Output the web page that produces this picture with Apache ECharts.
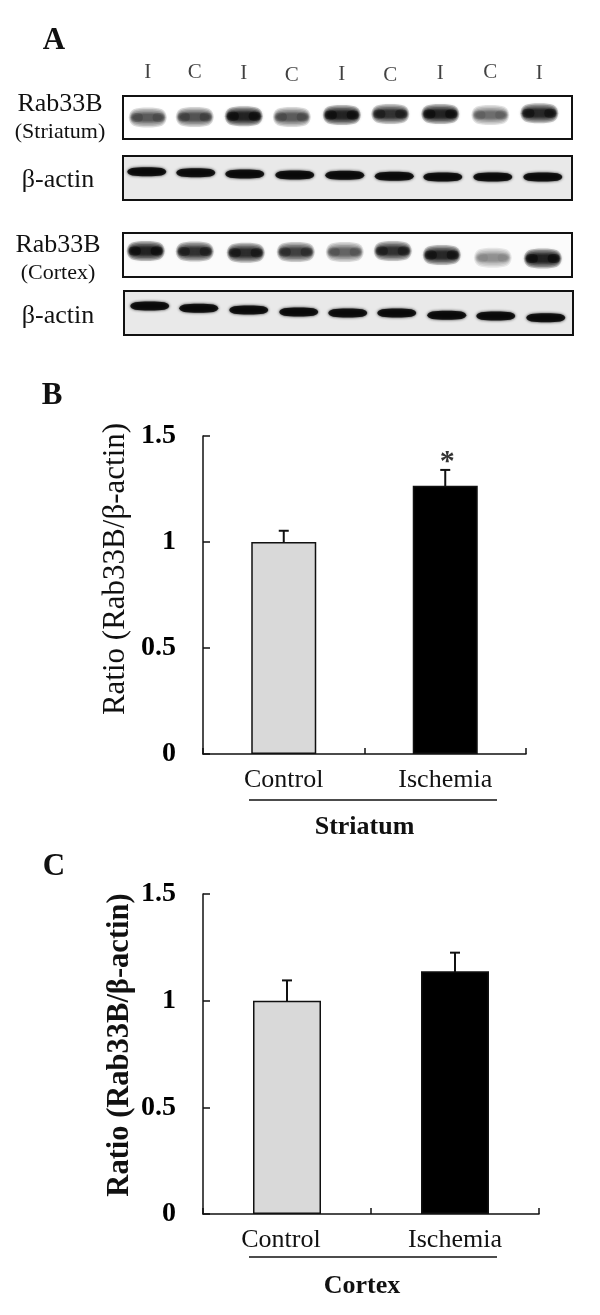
<!DOCTYPE html>
<html>
<head>
<meta charset="utf-8">
<style>
  html, body { margin: 0; padding: 0; background: #fff; }
  #main { width: 600px; height: 1315px; }
</style>
<script src="https://cdn.jsdelivr.net/npm/echarts@6/dist/echarts.min.js"></script>
</head>
<body>
<div id="main"></div>
<script>
// blot lanes
var laneLabels = ['I', 'C', 'I', 'C', 'I', 'C', 'I', 'C', 'I'];
var laneLabelRow = [42, 42, 44, 50, 47, 50, 44, 42, 44];

var striatumLanes = [1, 1.95, 2.94, 3.91, 4.92, 5.9, 6.91, 7.92, 8.91];
var striatumBandY = [50, 49, 47, 49, 44, 42, 42, 44, 40];
var striatumDensity = [0.6, 0.65, 1, 0.6, 1, 0.85, 1, 0.5, 0.95];

var actin1Lanes = [0.98, 1.97, 2.96, 3.97, 4.98, 5.98, 6.96, 7.97, 8.98];
var actin1BandY = [36, 38, 41, 43, 44, 46, 48, 48, 48];
var actin1Density = [1, 1, 1, 1, 1, 1, 1, 1, 1];

var cortexLanes = [0.96, 1.95, 2.98, 3.99, 4.98, 5.95, 6.94, 7.97, 8.98];
var cortexBandY = [41, 42, 45, 43, 43, 41, 50, 56, 58];
var cortexDensity = [1, 0.85, 0.9, 0.75, 0.55, 0.85, 0.95, 0.35, 1];

var actin2Lanes = [1.02, 2.01, 3.02, 4.03, 5.02, 6.01, 7.02, 8.01, 9.02];
var actin2BandY = [34, 39, 43, 48, 50, 50, 55, 57, 61];
var actin2Density = [1, 1, 1, 1, 1, 1, 1, 1, 1];

// bar charts
var groups = ['Control', 'Ischemia'];
var striatumRatio = [1, 1.265];
var striatumErrTop = [1.053, 1.34];
var striatumStars = ['', '*'];
var cortexRatio = [1, 1.1375];
var cortexErrTop = [1.095, 1.225];

var SERIF = '"Liberation Serif", "Times New Roman", serif';
var barColors = ['#d9d9d9', '#000000'];
var BAND = 'path://M0,50 C2,8 15,0 50,0 C85,0 98,8 100,50 C98,92 85,100 50,100 C15,100 2,92 0,50Z';

var chart = echarts.init(document.getElementById('main'));

function bandLayer(idx, lanes, bandY, density, w, h, blur, alpha) {
  return {
    type: 'scatter', xAxisIndex: idx, yAxisIndex: idx, symbol: BAND, symbolSize: [w, h], silent: true, clip: true,
    data: lanes.map(function (x, i) {
      var col = 'rgba(0,0,0,' + density[i] * alpha + ')';
      return { value: [x, bandY[i]], itemStyle: { color: col, shadowColor: col, shadowBlur: blur } };
    })
  };
}

// soft bands are a stack of faint shapes, so the edge fades out with no rim
function softBand(idx, lanes, bandY, density) {
  var layers = [];
  [[38, 20], [36, 17], [35, 14], [33, 11], [32, 9], [30, 7]].forEach(function (s) {
    layers.push(bandLayer(idx, lanes, bandY, density, s[0], s[1], 3, 0.28));
  });
  // darker lobes at both ends of a band
  [-0.22, 0.22].forEach(function (d) {
    var shifted = lanes.map(function (x) { return x + d; });
    var dark = density.map(function (v) { return v * v; });
    layers.push(bandLayer(idx, shifted, bandY, dark, 12, 9, 4, 0.55));
  });
  return layers;
}

function blotPanel(idx, top, left, height, bg, lanes, bandY, density, soft) {
  return {
    grid: { left: left, top: top, width: 449, height: height, show: true, backgroundColor: bg, borderColor: '#111', borderWidth: 2 },
    xAxis: { gridIndex: idx, type: 'value', min: 0.5, max: 9.57, show: false },
    yAxis: { gridIndex: idx, type: 'value', min: 0, max: 100, inverse: true, show: false },
    series: soft ? softBand(idx, lanes, bandY, density) : [bandLayer(idx, lanes, bandY, density, 39, 9, 3, 1)]
  };
}

function errSeries(xi, top) {
  return {
    type: 'custom', xAxisIndex: xi, yAxisIndex: xi, silent: true, z: 1,
    data: top.map(function (t, i) { return [i, t]; }),
    renderItem: function (params, api) {
      var p = api.coord([api.value(0), api.value(1)]);
      var base = api.coord([api.value(0), 0]);
      var style = { stroke: '#111', lineWidth: 2 };
      return {
        type: 'group', children: [
          { type: 'line', shape: { x1: p[0], y1: p[1], x2: p[0], y2: base[1] }, style: style },
          { type: 'line', shape: { x1: p[0] - 5, y1: p[1], x2: p[0] + 5, y2: p[1] }, style: style }
        ]
      };
    }
  };
}

function barPanel(idx, left, top, width, height, o) {
  return {
    grid: { left: left, top: top, width: width, height: height },
    xAxis: {
      gridIndex: idx, type: 'category', data: o.cats,
      axisLine: { lineStyle: { color: '#111', width: 1.5 } },
      axisTick: { show: true, inside: true, length: 6, lineStyle: { color: '#111', width: 1.5 } },
      axisLabel: { color: '#111', fontFamily: SERIF, fontSize: 26, margin: 13 },
      name: o.region, nameLocation: 'middle', nameGap: o.regionGap, nameMoveOverlap: false,
      nameTextStyle: { color: '#111', fontFamily: SERIF, fontSize: 26, fontWeight: 'bold', padding: o.regionPad || 0 }
    },
    yAxis: {
      gridIndex: idx, type: 'value', min: 0, max: 1.5, interval: 0.5,
      splitLine: { show: false },
      axisLine: { show: true, lineStyle: { color: '#111', width: 1.5 } },
      axisTick: { show: true, inside: true, length: 7, lineStyle: { color: '#111', width: 1.5 } },
      axisLabel: { color: '#000', fontFamily: SERIF, fontSize: 28, fontWeight: 'bold', margin: 27 },
      name: 'Ratio (Rab33B/β-actin)', nameLocation: 'middle', nameGap: o.nameGap, nameRotate: 90, nameMoveOverlap: false,
      nameTextStyle: { color: '#111', fontFamily: SERIF, fontSize: o.nameSize, fontWeight: o.nameWeight, padding: o.namePad }
    },
    series: [{
      type: 'bar', xAxisIndex: idx, yAxisIndex: idx, barWidth: o.barW, silent: true, z: 2,
      data: o.ratio.map(function (v, i) {
        return { value: v, itemStyle: { color: barColors[i], borderColor: '#111', borderWidth: 1.5 } };
      })
    }]
  };
}

var panels = [
  blotPanel(0, 96, 123, 43, '#ffffff', striatumLanes, striatumBandY, striatumDensity, true),
  blotPanel(1, 156, 123, 44, '#e9e9e9', actin1Lanes, actin1BandY, actin1Density, false),
  blotPanel(2, 233, 123, 44, '#fbfbfb', cortexLanes, cortexBandY, cortexDensity, true),
  blotPanel(3, 291, 124, 44, '#e9e9e9', actin2Lanes, actin2BandY, actin2Density, false),
  barPanel(4, 203, 436, 323, 318, {
    cats: groups, region: 'Striatum', regionGap: 60, ratio: striatumRatio, barW: 65,
    nameGap: 72, nameSize: 31, nameWeight: 'normal', namePad: [0, 0, 0, 52]
  }),
  barPanel(5, 203, 894, 336, 320, {
    cats: [{ value: groups[0], textStyle: { padding: [0, 12, 0, 0] } }, groups[1]],
    region: 'Cortex', regionGap: 59, regionPad: [0, 18, 0, 0], ratio: cortexRatio, barW: 68,
    nameGap: 67, nameSize: 30.5, nameWeight: 'bold', namePad: [0, 0, 0, 18]
  })
];

// row of lane letters over panel A
var laneRow = {
  grid: { left: 123, top: 60, width: 449, height: 30 },
  xAxis: { gridIndex: 6, type: 'value', min: 0.5, max: 9.57, show: false },
  yAxis: { gridIndex: 6, type: 'value', min: 0, max: 100, inverse: true, show: false },
  series: [{
    type: 'scatter', xAxisIndex: 6, yAxisIndex: 6, symbolSize: 0, silent: true,
    data: laneLabels.map(function (t, i) { return [striatumLanes[i], laneLabelRow[i]]; }),
    label: {
      show: true, position: 'inside', color: '#111', fontFamily: SERIF, fontSize: 21,
      formatter: function (p) { return laneLabels[p.dataIndex]; }
    }
  }]
};

function starSeries(xi, top, stars) {
  return {
    type: 'scatter', xAxisIndex: xi, yAxisIndex: xi, symbolSize: 0, silent: true,
    data: top.map(function (t, i) { return [i, t]; }),
    label: {
      show: true, position: 'top', distance: -7, color: '#000', fontFamily: SERIF, fontSize: 30, fontWeight: 'bold',
      offset: [2, 0],
      formatter: function (p) { return stars[p.dataIndex]; }
    }
  };
}

function txt(x, y, s, size, weight) {
  return {
    type: 'text', x: x, y: y, silent: true,
    style: { text: s, fill: '#111', font: (weight || 'normal') + ' ' + size + 'px ' + SERIF, textAlign: 'center', textVerticalAlign: 'middle' }
  };
}

function rule(x1, x2, y) {
  return { type: 'line', silent: true, shape: { x1: x1, y1: y, x2: x2, y2: y }, style: { stroke: '#111', lineWidth: 1.5 } };
}

var all = panels.concat([laneRow]);
var marks = [];
all.forEach(function (p) { marks = marks.concat(p.series); });

chart.setOption({
  animation: false,
  backgroundColor: '#fff',
  grid: all.map(function (p) { return p.grid; }),
  xAxis: all.map(function (p) { return p.xAxis; }),
  yAxis: all.map(function (p) { return p.yAxis; }),
  series: marks.concat([
    errSeries(4, striatumErrTop),
    errSeries(5, cortexErrTop),
    starSeries(4, striatumErrTop, striatumStars)
  ]),
  graphic: [
    txt(54, 41, 'A', 31, 'bold'),
    txt(52, 396, 'B', 31, 'bold'),
    txt(54, 867, 'C', 31, 'bold'),
    txt(60, 104, 'Rab33B', 26),
    txt(60, 132, '(Striatum)', 22),
    txt(58, 180, 'β-actin', 26),
    txt(58, 245, 'Rab33B', 26),
    txt(58, 273, '(Cortex)', 22),
    txt(58, 316, 'β-actin', 26),
    rule(249, 497, 800),
    rule(249, 497, 1257)
  ]
});
</script>
</body>
</html>
